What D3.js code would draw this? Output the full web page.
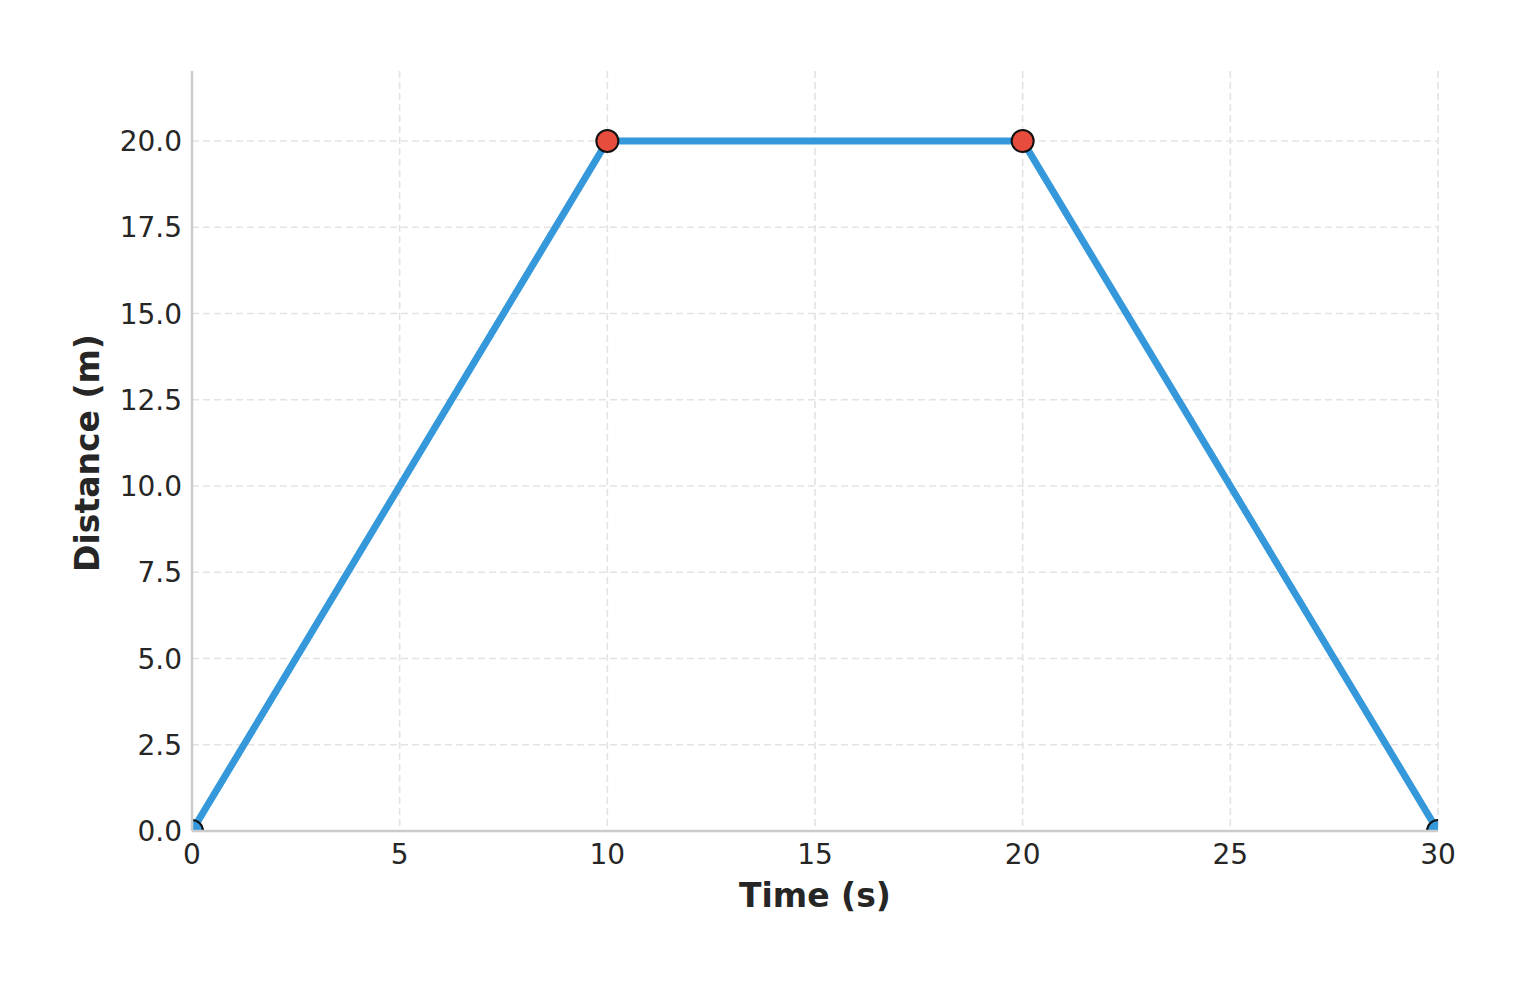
<!DOCTYPE html><html><head><script src="https://cdn.jsdelivr.net/npm/d3@7"></script>
<style>body{margin:0;background:#fff}</style></head><body><svg id="c" width="1530" height="986"></svg>
<script>
const times=[0,10,20,30];
const distances=[0,20,20,0];
const pointColors=["#3498db","#e74c3c","#e74c3c","#3498db"];
const xTicks=[0,5,10,15,20,25,30];
const yTicks=[0,2.5,5,7.5,10,12.5,15,17.5,20];
const svg=d3.select("#c");
const L=192,R=1438,T=71,B=831;
const x=d3.scaleLinear().domain([0,30]).range([L,R]);
const y=d3.scaleLinear().domain([0,22.03]).range([B,T]);
const font="DejaVu Sans";
svg.append("defs").append("clipPath").attr("id","cp").append("rect").attr("x",L).attr("y",T).attr("width",R-L).attr("height",B-T);
const g=svg.append("g");
g.selectAll(".gx").data(xTicks).join("line").attr("x1",d=>x(d)).attr("x2",d=>x(d)).attr("y1",T).attr("y2",B).attr("stroke","#e3e3e3").attr("stroke-dasharray","7,4").attr("stroke-width",1.6);
g.selectAll(".gy").data(yTicks).join("line").attr("y1",d=>y(d)).attr("y2",d=>y(d)).attr("x1",L).attr("x2",R).attr("stroke","#e3e3e3").attr("stroke-dasharray","7,4").attr("stroke-width",1.6);
const pts=times.map((t,i)=>[t,distances[i]]);
const cg=svg.append("g").attr("clip-path","url(#cp)");
cg.append("path").attr("d",d3.line().x(d=>x(d[0])).y(d=>y(d[1]))(pts)).attr("fill","none").attr("stroke","#3498db").attr("stroke-width",7);
cg.selectAll("circle").data(pts).join("circle").attr("cx",d=>x(d[0])).attr("cy",d=>y(d[1])).attr("r",11).attr("fill",(d,i)=>pointColors[i]).attr("stroke","#111").attr("stroke-width",2);
svg.append("line").attr("x1",L).attr("x2",L).attr("y1",T).attr("y2",B).attr("stroke","#ccc").attr("stroke-width",2.5);
svg.append("line").attr("x1",L).attr("x2",R).attr("y1",B).attr("y2",B).attr("stroke","#ccc").attr("stroke-width",2.5);
svg.selectAll(".xt").data(xTicks).join("text").attr("x",d=>x(d)).attr("y",B+33).attr("text-anchor","middle").attr("font-family",font).attr("font-size",28).attr("fill","#262626").text(d=>d);
svg.selectAll(".yt").data(yTicks).join("text").attr("x",L-10).attr("y",d=>y(d)+10).attr("text-anchor","end").attr("font-family",font).attr("font-size",28).attr("fill","#262626").text(d=>d.toFixed(1));
svg.append("text").attr("x",(L+R)/2).attr("y",907).attr("text-anchor","middle").attr("font-family",font).attr("font-size",33).attr("font-weight","bold").attr("fill","#262626").text("Time (s)");
svg.append("text").attr("transform",`translate(99,453) rotate(-90)`).attr("text-anchor","middle").attr("font-family",font).attr("font-size",33).attr("font-weight","bold").attr("fill","#262626").text("Distance (m)");
</script></body></html>
